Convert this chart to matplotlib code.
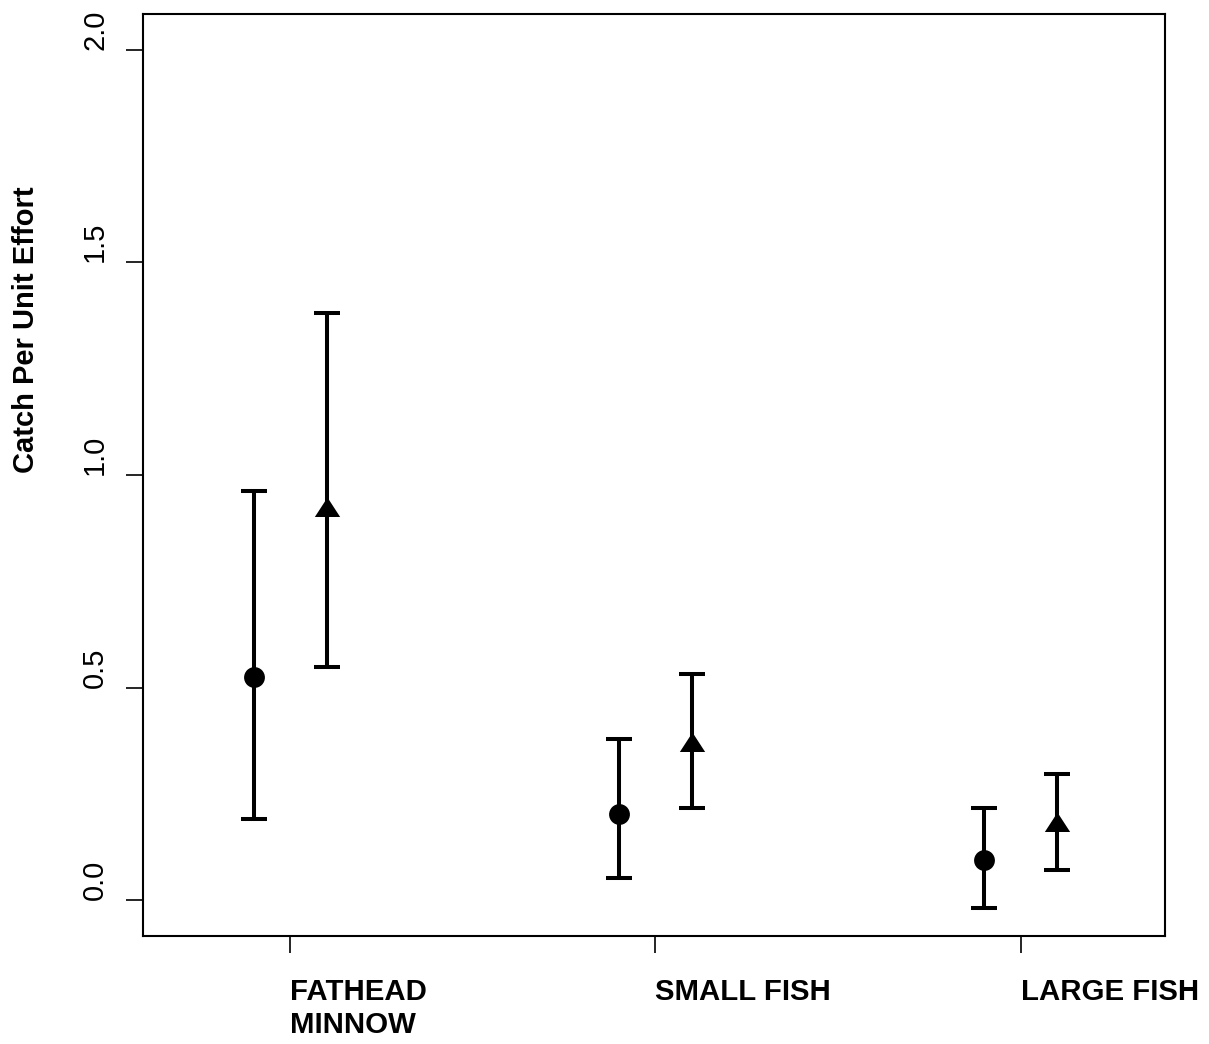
import matplotlib
matplotlib.use("Agg")
import matplotlib.pyplot as plt
from matplotlib.path import Path
import numpy as np

plt.rcParams['font.family'] = ['Liberation Sans', 'DejaVu Sans']

# Data
categories = ["FATHEAD\nMINNOW", "SMALL FISH", "LARGE FISH"]
circle_mean = [0.524, 0.202, 0.094]
circle_low = [0.190, 0.052, -0.017]
circle_high = [0.962, 0.379, 0.217]
tri_mean = [0.918, 0.364, 0.176]
tri_low = [0.549, 0.218, 0.071]
tri_high = [1.381, 0.531, 0.296]
yticks = [0.0, 0.5, 1.0, 1.5, 2.0]
ylabel = "Catch Per Unit Effort"

W, H, DPI = 1209, 1044, 100
fig = plt.figure(figsize=(W / DPI, H / DPI), dpi=DPI)
ax = fig.add_axes([142.7 / W, 1 - 936 / H, (1165 - 142.7) / W, (936 - 14) / H])

x = np.arange(1, len(categories) + 1)
off = 0.1

tri_marker = Path([(0, 1), (-0.975, -0.5), (0.975, -0.5), (0, 1)],
                  [Path.MOVETO, Path.LINETO, Path.LINETO, Path.CLOSEPOLY])

def draw(xpos, mean, low, high, marker, ms):
    mean = np.array(mean)
    yerr = np.vstack([mean - np.array(low), np.array(high) - mean])
    ax.errorbar(xpos, mean, yerr=yerr, fmt='none', ecolor='black',
                elinewidth=2.9, capsize=9.7, capthick=2.9, zorder=2)
    ax.plot(xpos, mean, linestyle='none', marker=marker, markersize=ms,
            color='black', markeredgewidth=0, zorder=3)

draw(x - off, circle_mean, circle_low, circle_high, 'o', 15)
draw(x + off, tri_mean, tri_low, tri_high, tri_marker, 18.7)

ax.set_xlim(0.596, 3.395)
ax.set_ylim(-0.084, 2.084)

ax.set_yticks(yticks)
ax.set_yticklabels([f"{v:.1f}" for v in yticks], rotation=90, va='bottom',
                   fontsize=21)
ax.set_xticks(x)
ax.set_xticklabels(categories, ha='left', fontsize=21.2, fontweight='bold',
                   multialignment='left', linespacing=1.25)

ax.tick_params(axis='y', length=12.2, width=1.2, pad=12)
ax.tick_params(axis='x', length=12.2, width=1.2, pad=18)
for s in ax.spines.values():
    s.set_linewidth(1.5)

fig.text(26 / W, 1 - 330 / H, ylabel, rotation=90, ha='center', va='center',
         fontsize=21, fontweight='bold')

fig.savefig("out.png", dpi=DPI)
